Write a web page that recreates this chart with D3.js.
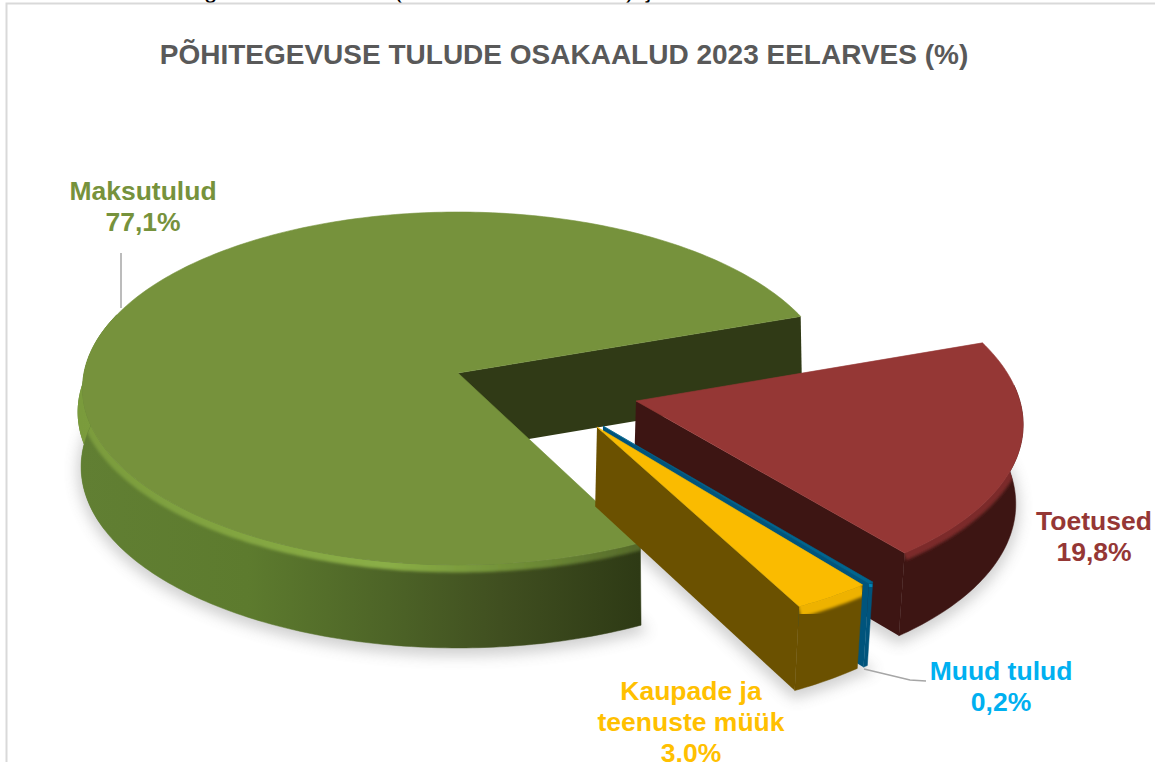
<!DOCTYPE html>
<html>
<head>
<meta charset="utf-8">
<script src="https://cdn.jsdelivr.net/npm/d3@7"></script>
<style>
  html, body { margin: 0; padding: 0; background: #fff; overflow: hidden; }
  text { font-family: "Liberation Sans", Arial, sans-serif; font-weight: bold; }
</style>
</head>
<body>
<div id="chart"></div>
<script>
const WIDTH = 1155;
const HEIGHT = 762;

const titleText = "PÕHITEGEVUSE TULUDE OSAKAALUD 2023 EELARVES (%)";
const categories = ["Maksutulud", "Toetused", "Muud tulud", "Kaupade ja teenuste müük"];
const shares = [77.1, 19.8, 0.2, 3.0];
const labelLines = [["Maksutulud"], ["Toetused"], ["Muud tulud"], ["Kaupade ja", "teenuste müük"]];
const labelColors = ["#76923c", "#953735", "#00b0f0", "#ffc000"];
const topColors = ["#76923c", "#953735", "#00658f", "#fabb00"];
const wallColors = ["#5a7a2f", "#3d1513", "#00547c", "#6b5100"];
const rimColors = ["#87ab42", "#7c2c29", "#0090c4", "#eeb200"];
const rimWidths = [10, 10, 10, 17];
const innerColors = ["#303a16", "#3d1513", "#00547c", "#6b5100"];

// exploded offset of each slice on the pie plane, in radius units
const explode = [[0, 0], [0.4638, -0.1577], [0.3732, -0.2949], [0.3575, -0.3003]];
const labelPos = [[143, 200], [1094, 530], [1001, 680], [691, 700]];

// pie plane -> screen, simple perspective fitted to the picture
const cx = 458, cy = 373, rx = 378.5, ry = 175.1, persp = 0.0878, depth = 78;
const project = (X, Y, z) => {
  let w = 1 + persp * Y;
  let s = 1 - 0.013 * z;
  return [cx + (s * rx * X) / w, cy - (s * ry * Y) / w + (z * depth) / w];
};

const TAU = Math.PI * 2;
const startDeg = 153.3;
const pie = d3.pie().sort(null)
  .startAngle((startDeg * Math.PI) / 180)
  .endAngle(((startDeg + 360) * Math.PI) / 180);
// slices go clockwise from the green one, later ones wrapped back past 12 o'clock
const arcs = pie(shares).map((d) => {
  if (d.startAngle >= TAU) {
    return { startAngle: d.startAngle - TAU, endAngle: d.endAngle - TAU };
  }
  return d;
});

// green slice has a rounded bevel: top face pulled in, wall pushed out lower down
const bevelScale = d3.scaleLinear().domain([0, 0.3]).range([0.988, 1.005]).clamp(true);
const rimPoint = (i, a, z) => {
  let p = project(explode[i][0] + Math.sin(a), explode[i][1] + Math.cos(a), z);
  if (i === 0) p[0] = cx + (p[0] - cx) * bevelScale(z);
  return p;
};
const apexPoint = (i, z) => project(explode[i][0], explode[i][1], z);

const sampleAngles = (a0, a1) => {
  let n = Math.max(2, Math.ceil(Math.abs(a1 - a0) * 60));
  return d3.range(n + 1).map((k) => a0 + ((a1 - a0) * k) / n);
};
const line = d3.line();

const svg = d3.select("#chart").append("svg")
  .attr("width", WIDTH).attr("height", HEIGHT)
  .style("display", "block").style("background", "#fff");

const defs = svg.append("defs");
defs.append("filter").attr("id", "soft")
  .attr("x", "-10%").attr("y", "-10%").attr("width", "120%").attr("height", "120%")
  .append("feGaussianBlur").attr("stdDeviation", 7);
defs.append("filter").attr("id", "edge")
  .attr("x", "-5%").attr("y", "-20%").attr("width", "110%").attr("height", "140%")
  .append("feGaussianBlur").attr("stdDeviation", 1.8);

const wallGrad = defs.append("linearGradient").attr("id", "greenWall")
  .attr("gradientUnits", "userSpaceOnUse")
  .attr("x1", 80).attr("x2", 640).attr("y1", 0).attr("y2", 0);
[[0, "#617f33"], [0.3, "#5d7b2e"], [0.55, "#4d6427"], [0.75, "#404f20"], [1, "#2e3a15"]]
  .forEach((d) => wallGrad.append("stop").attr("offset", d[0]).attr("stop-color", d[1]));

const rimGrad = defs.append("linearGradient").attr("id", "greenRim")
  .attr("gradientUnits", "userSpaceOnUse")
  .attr("x1", 80).attr("x2", 640).attr("y1", 0).attr("y2", 0);
[[0, "#7a9b3c"], [0.55, "#8aae46"], [0.8, "#6e8c36"], [1, "#55692a"]]
  .forEach((d) => rimGrad.append("stop").attr("offset", d[0]).attr("stop-color", d[1]));

// clipped line of page text above the chart frame
svg.append("g").attr("font-size", 24).attr("fill", "#000")
  .selectAll("text")
  .data([["g", 204], ["(", 394], [")", 626], ["j", 646]])
  .join("text")
  .attr("x", (d) => d[1])
  .attr("y", -2)
  .style("font-weight", "normal")
  .text((d) => d[0]);

// frame
svg.append("path")
  .attr("d", "M6.5," + HEIGHT + "V3.5H" + WIDTH)
  .attr("fill", "none").attr("stroke", "#d9d9d9").attr("stroke-width", 2);

// title
svg.append("text")
  .attr("x", 564).attr("y", 64)
  .attr("text-anchor", "middle")
  .attr("font-size", 28)
  .attr("fill", "#595959")
  .text(titleText);

const frontFrom = (85 * Math.PI) / 180;
const frontTo = (290 * Math.PI) / 180;

// soft shadow under every slice
const shadow = svg.append("g").attr("filter", "url(#soft)").attr("opacity", 0.3);
arcs.forEach((d, i) => {
  let a0 = Math.max(d.startAngle, frontFrom);
  let a1 = Math.min(d.endAngle, frontTo);
  let pts = sampleAngles(a0, a1).map((a) => rimPoint(i, a, 1.05));
  // the bottom face, from the apex round the rim
  pts.push(apexPoint(i, 1.05));
  shadow.append("path").attr("d", line(pts) + "Z").attr("fill", "#666")
    .attr("stroke", "#666").attr("stroke-width", 8);
});

arcs.forEach((d, i) => {
  const g = svg.append("g").attr("class", "slice").attr("data-name", categories[i]);
  const wallFill = i === 0 ? "url(#greenWall)" : wallColors[i];
  const rimStroke = i === 0 ? "url(#greenRim)" : rimColors[i];

  // radial wall at the clockwise end, it faces the viewer
  g.append("path")
    .attr("d", line([apexPoint(i, 0), rimPoint(i, d.endAngle, 0),
      rimPoint(i, d.endAngle, 1), apexPoint(i, 1)]) + "Z")
    .attr("fill", innerColors[i]);

  // bulge of the bevel on the far left of the green wall, upper part is lit
  if (i === 0) {
    let side = sampleAngles((245 * Math.PI) / 180, frontTo);
    let mid = side.map((a) => rimPoint(i, a, 0.3));
    let bulgeLow = mid.concat(side.map((a) => rimPoint(i, a, 1)).reverse());
    let bulge = mid.concat(side.map((a) => rimPoint(i, a, 0)).reverse());
    g.append("path").attr("d", line(bulgeLow) + "Z").attr("fill", wallFill);
    g.append("path").attr("d", line(bulge) + "Z").attr("fill", "url(#greenRim)");
  }

  // outer wall
  const a0 = Math.max(d.startAngle, frontFrom);
  const a1 = Math.min(d.endAngle, frontTo);
  if (a1 > a0) {
    let angles = sampleAngles(a0, a1);
    let wall = angles.map((a) => rimPoint(i, a, 0))
      .concat(angles.map((a) => rimPoint(i, a, 1)).reverse());
    g.append("path").attr("d", line(wall) + "Z").attr("fill", wallFill)
      .attr("stroke", wallFill).attr("stroke-width", 0.5);
    // lit bevel along the top of the wall
    defs.append("clipPath").attr("id", "wallClip" + i)
      .append("path").attr("d", line(wall) + "Z");
    g.append("g").attr("clip-path", "url(#wallClip" + i + ")")
      .append("path")
      .attr("d", line(angles.map((a) => rimPoint(i, a, 0.03))))
      .attr("fill", "none")
      .attr("stroke", rimStroke)
      .attr("stroke-width", rimWidths[i])
      .attr("filter", "url(#edge)");
  }

  // top face
  let topPts = [apexPoint(i, 0)].concat(
    sampleAngles(d.startAngle, d.endAngle).map((a) => rimPoint(i, a, 0)));
  g.append("path")
    .attr("d", line(topPts) + "Z")
    .attr("fill", topColors[i])
    .attr("stroke", topColors[i])
    .attr("stroke-width", 0.6)
    .attr("stroke-linejoin", "round");
});

// leader lines
const leaders = [
  [[121, 253], [121, 308]],
  [[864, 669], [910, 680], [926, 681]],
];
svg.append("g").selectAll("path").data(leaders).join("path")
  .attr("d", (d) => line(d))
  .attr("fill", "none").attr("stroke", "#a6a6a6").attr("stroke-width", 1.5);

// data labels
const fmt = (v) => v.toFixed(1).replace(".", ",") + "%";
categories.forEach((c, i) => {
  let t = svg.append("text")
    .attr("text-anchor", "middle")
    .attr("font-size", 26.5)
    .attr("fill", labelColors[i]);
  labelLines[i].concat([fmt(shares[i])]).forEach((s, k) => {
    t.append("tspan")
      .attr("x", labelPos[i][0])
      .attr("y", labelPos[i][1] + k * 31)
      .text(s);
  });
});
</script>
</body>
</html>
